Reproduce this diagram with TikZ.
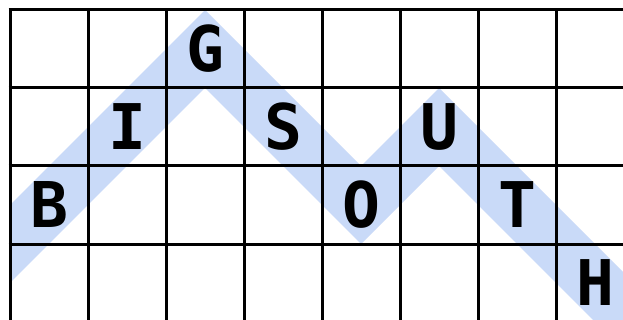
\documentclass[tikz,border=0pt]{standalone}
\usepackage{fontspec}
\setmonofont{DejaVu Sans Mono}
\definecolor{bandblue}{RGB}{201,218,248}
\begin{document}
\begin{tikzpicture}[x=1pt,y=-1pt,
  letter/.style={font=\fontsize{63}{63}\selectfont\ttfamily\bfseries, inner sep=0pt, anchor=center},
  gridline/.style={line width=3pt, black},
  band/.style={line width=55.15pt, bandblue, line join=miter, miter limit=10}]
\useasboundingbox (0,0) rectangle (623,320);
\fill[white] (0,0) rectangle (623,320);
% letter positions
\coordinate (startpt) at (-29,283);
\coordinate (endpt) at (673,361);
\coordinate (pB) at (49,205);
\coordinate (pI) at (127,127);
\coordinate (pG) at (205,49);
\coordinate (pS) at (283,127);
\coordinate (pO) at (361,205);
\coordinate (pU) at (439,127);
\coordinate (pT) at (517,205);
\coordinate (pH) at (595,283);
\begin{scope}
  \clip (10,10) rectangle (623,320);
  \draw[band] (startpt) -- (pB) -- (pI) -- (pG) -- (pS) -- (pO) -- (pU) -- (pT) -- (pH) -- (endpt);
\end{scope}
% grid
\foreach \i in {0,...,7} {
  \draw[gridline] (10+78*\i,8.5) -- (10+78*\i,322);
}
\foreach \j in {0,...,4} {
  \draw[gridline] (8.5,10+78*\j) -- (625,10+78*\j);
}
\node[letter] (B) at (pB) {B};
\node[letter] (I) at (pI) {I};
\node[letter] (G) at (pG) {G};
\node[letter] (S) at (pS) {S};
\node[letter] (O) at (pO) {O};
\node[letter] (U) at (pU) {U};
\node[letter] (T) at (pT) {T};
\node[letter] (H) at (pH) {H};
\end{tikzpicture}
\end{document}
